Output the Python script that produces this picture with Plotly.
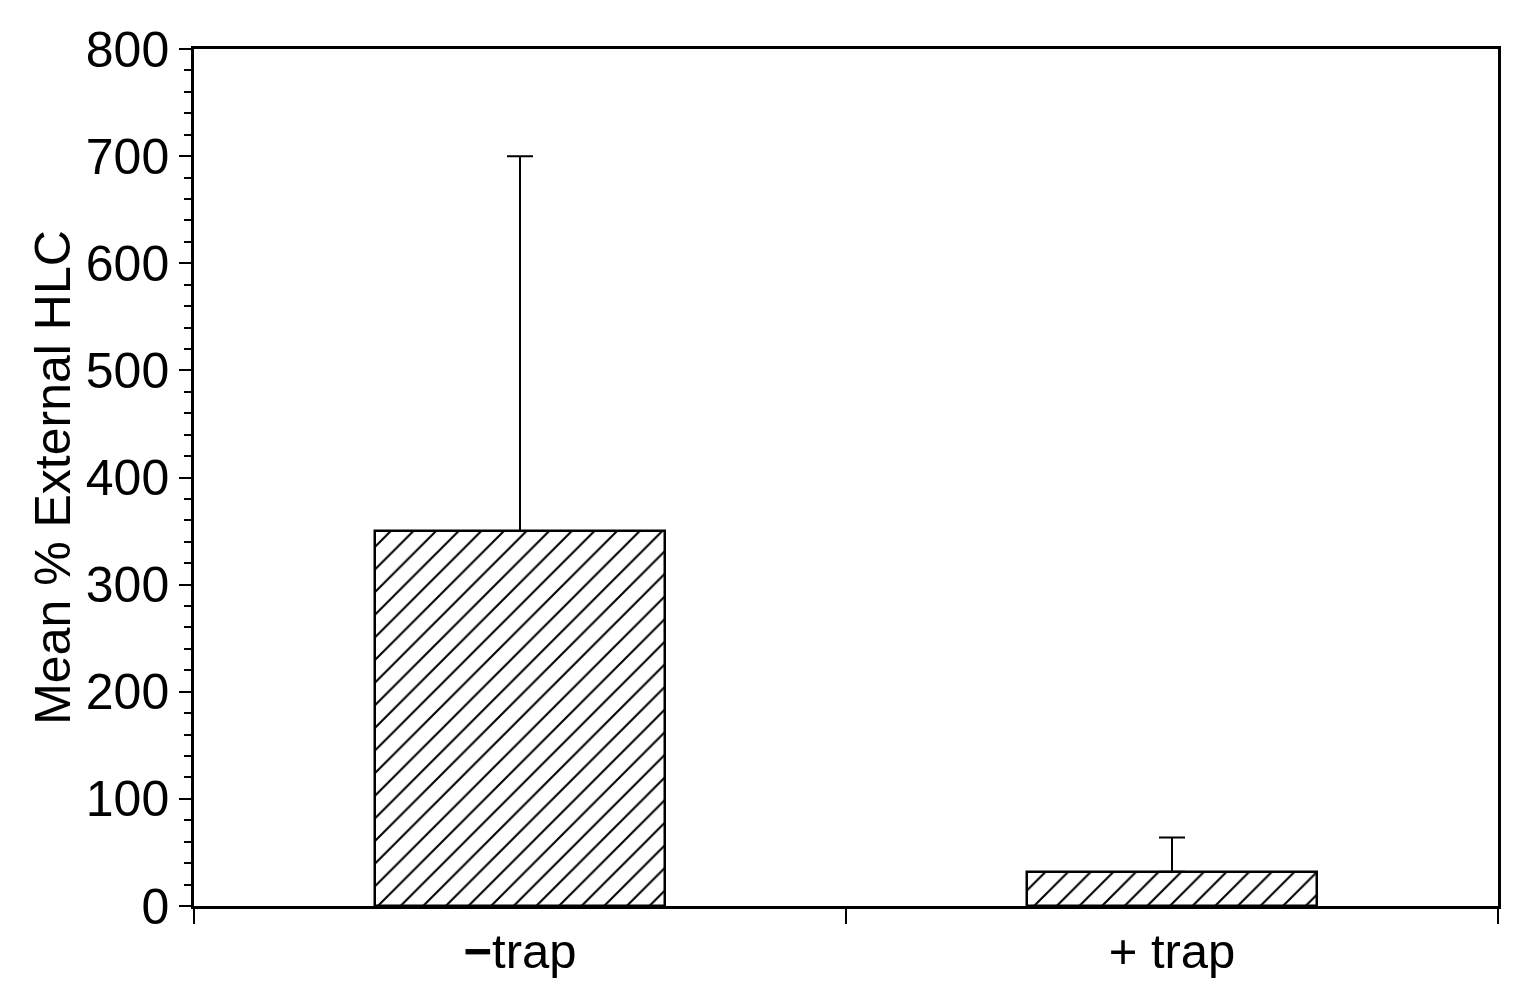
import plotly.graph_objects as go

# data
groups = ['<b>\u2212</b>trap', '+ trap']
means = [350, 32]
err_up = [350, 32]
err_down = [0, 0]
y_ticks = [0, 100, 200, 300, 400, 500, 600, 700, 800]

fig = go.Figure()
fig.add_trace(go.Bar(
    x=groups, y=means, width=0.446,
    marker=dict(color='white',
                line=dict(color='black', width=2.5),
                pattern=dict(shape='/', size=16, solidity=0.13,
                             fgcolor='black', bgcolor='white', fgopacity=1)),
    error_y=dict(type='data', array=err_up, arrayminus=err_down,
                 symmetric=False, color='black', thickness=2, width=13),
))

font = 'Liberation Sans, Arial, Helvetica, sans-serif'
fig.update_layout(
    width=1516, height=986,
    margin=dict(l=186, r=26, t=41, b=88),
    plot_bgcolor='white', paper_bgcolor='white',
    showlegend=False,
    font=dict(family=font, size=49, color='black'),
    bargap=0,
)
fig.update_xaxes(
    type='category', range=[-0.5, 1.5],
    showline=True, linecolor='black', linewidth=2.5, mirror=True,
    ticks='outside', tickson='boundaries', ticklen=15, tickwidth=1.5,
    tickcolor='black', showgrid=False, zeroline=False,
    tickfont=dict(size=49),
)
fig.update_yaxes(
    range=[0, 800], tickvals=y_ticks,
    showline=True, linecolor='black', linewidth=2.5, mirror=True,
    ticks='outside', ticklen=12, tickwidth=2, tickcolor='black',
    minor=dict(dtick=20, ticks='outside', ticklen=7, tickwidth=1.5,
               tickcolor='black', showgrid=False),
    showgrid=False, zeroline=False,
    tickfont=dict(size=50),
    title=dict(text='Mean % External HLC', font=dict(size=50), standoff=0),
)

fig.write_html('out.html')
